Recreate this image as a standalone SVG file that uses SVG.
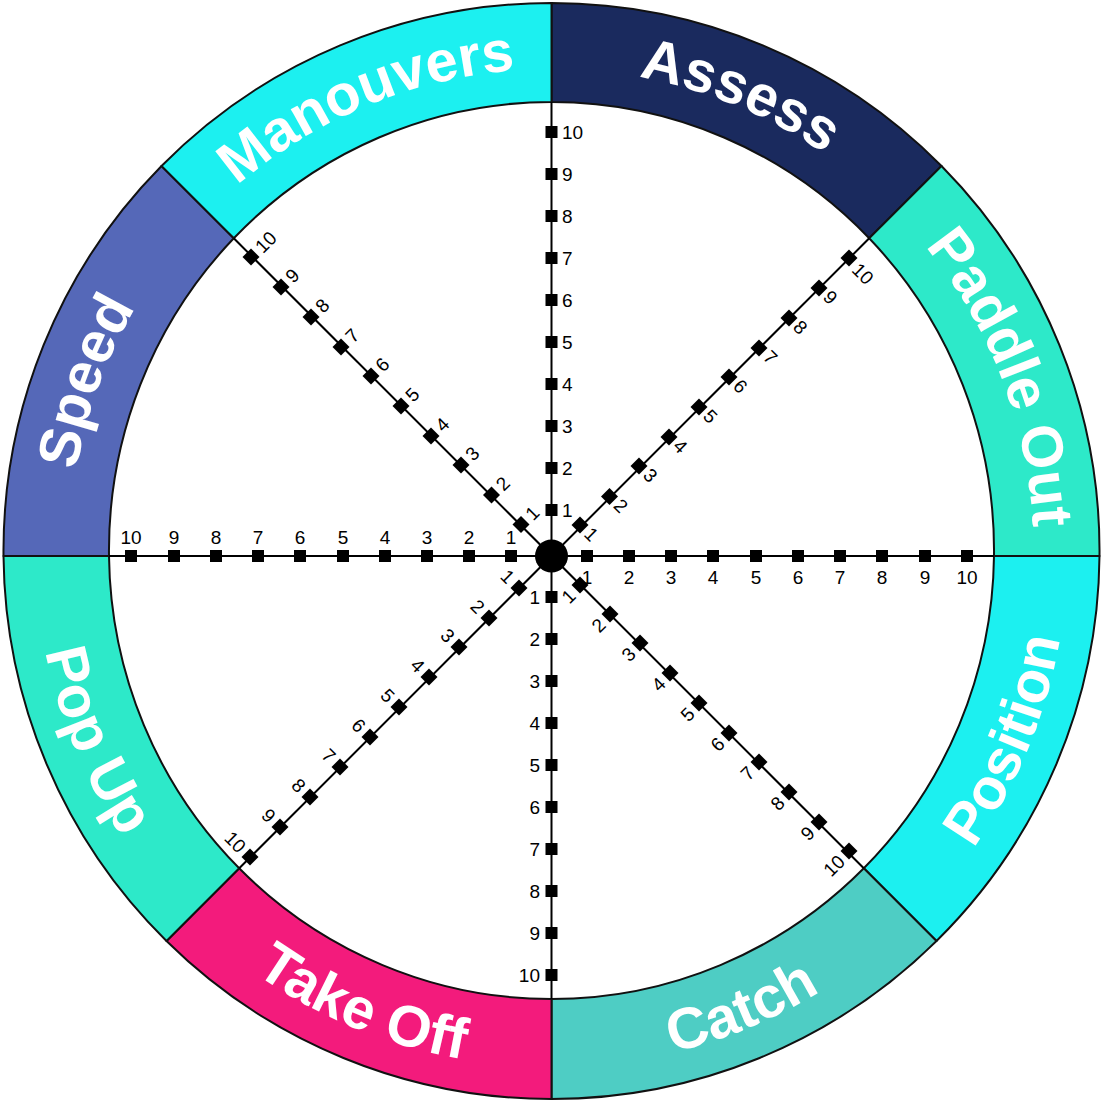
<svg xmlns="http://www.w3.org/2000/svg" xmlns:xlink="http://www.w3.org/1999/xlink" width="1101" height="1102" viewBox="0 0 1101 1102">
<style>
.seg{stroke:#111;stroke-width:2;stroke-linejoin:round}
.lbl{font-family:"Liberation Sans",Arial,sans-serif;font-weight:bold;font-size:58px;fill:#fff}
.spoke{stroke:#000;stroke-width:2;fill:none}
.num{font-family:"Liberation Sans",Arial,sans-serif;font-size:19px;fill:#000}
.c{text-anchor:middle}
.s{text-anchor:start}
.e{text-anchor:end}
</style>
<defs>
<rect id="sq" x="-6" y="-6" width="12" height="12" fill="#000"/>
<rect id="dm" x="-6" y="-6" width="12" height="12" fill="#000" transform="rotate(45)"/>
<path id="pManouvers" d="M123.96,328.44 A482,482 0 0 1 696.44,91.31"/>
<path id="pAssess" d="M406.56,91.31 A482,482 0 0 1 979.04,328.44"/>
<path id="pPaddle" d="M785.18,129.43 A482,482 0 0 1 1007.24,707.92"/>
<path id="pSpeed" d="M98.57,715.85 A482,482 0 0 1 310.5,133.57"/>
<path id="pPosition" d="M789.76,1008.70 A516,516 0 0 0 1043.62,395.83"/>
<path id="pCatch" d="M396.33,1043.12 A516,516 0 0 0 1009.20,789.26"/>
<path id="pTakeOff" d="M93.80,789.26 A516,516 0 0 0 706.67,1043.12"/>
<path id="pPopUp" d="M59.38,395.83 A516,516 0 0 0 313.24,1008.70"/>
</defs>
<rect width="1101" height="1102" fill="#fff"/>

<g id="assess">
<path class="seg" fill="#1a2a5e" d="M551.5,102 L551.5,3 A548,548 0 0 1 941.5,166 L869.2,238.3 A442.5,448.5 0 0 0 551.5,102 Z"/>
<text class="lbl"><textPath href="#pAssess" startOffset="50%" text-anchor="middle">Assess</textPath></text>
</g>
<g id="paddle-out">
<path class="seg" fill="#2de9c9" d="M869.2,238.3 L941.5,166 A548,548 0 0 1 1099.5,556 L994,556 A442.5,448.5 0 0 0 869.2,238.3 Z"/>
<text class="lbl"><textPath href="#pPaddle" startOffset="50%" text-anchor="middle">Paddle Out</textPath></text>
</g>
<g id="position">
<path class="seg" fill="#1cf0f0" d="M994,556 L1099.5,556 A548,548 0 0 1 936.5,941 L863.8,868.3 A442.5,448.5 0 0 0 994,556 Z"/>
<text class="lbl"><textPath href="#pPosition" startOffset="50%" text-anchor="middle">Position</textPath></text>
</g>
<g id="catch">
<path class="seg" fill="#4ecdc4" d="M863.8,868.3 L936.5,941 A548,548 0 0 1 551.5,1099 L551.5,999 A442.5,448.5 0 0 0 863.8,868.3 Z"/>
<text class="lbl"><textPath href="#pCatch" startOffset="50%" text-anchor="middle">Catch</textPath></text>
</g>
<g id="take-off">
<path class="seg" fill="#f31b7c" d="M551.5,999 L551.5,1099 A548,548 0 0 1 166.5,941 L239.2,868.3 A442.5,448.5 0 0 0 551.5,999 Z"/>
<text class="lbl"><textPath href="#pTakeOff" startOffset="50%" text-anchor="middle">Take Off</textPath></text>
</g>
<g id="pop-up">
<path class="seg" fill="#2de9c9" d="M239.2,868.3 L166.5,941 A548,548 0 0 1 3.5,556 L109,556 A442.5,448.5 0 0 0 239.2,868.3 Z"/>
<text class="lbl"><textPath href="#pPopUp" startOffset="50%" text-anchor="middle">Pop Up</textPath></text>
</g>
<g id="speed">
<path class="seg" fill="#5568b8" d="M109,556 L3.5,556 A548,548 0 0 1 161.5,166 L233.8,238.3 A442.5,448.5 0 0 0 109,556 Z"/>
<text class="lbl"><textPath href="#pSpeed" startOffset="50%" text-anchor="middle">Speed</textPath></text>
</g>
<g id="manouvers">
<path class="seg" fill="#1cf0f0" d="M233.8,238.3 L161.5,166 A548,548 0 0 1 551.5,3 L551.5,102 A442.5,448.5 0 0 0 233.8,238.3 Z"/>
<text class="lbl"><textPath href="#pManouvers" startOffset="50%" text-anchor="middle">Manouvers</textPath></text>
</g>

<g id="connectors">
<line class="spoke" x1="551.5" y1="102" x2="551.5" y2="999"/>
<line class="spoke" x1="109" y1="556" x2="994" y2="556"/>
<line class="spoke" x1="869.2" y1="238.3" x2="239.2" y2="868.3"/>
<line class="spoke" x1="233.8" y1="238.3" x2="863.8" y2="868.3"/>
</g>

<g id="ticks-north">
<use href="#sq" x="551.5" y="510"/><use href="#sq" x="551.5" y="468"/><use href="#sq" x="551.5" y="426"/><use href="#sq" x="551.5" y="384"/><use href="#sq" x="551.5" y="342"/><use href="#sq" x="551.5" y="300"/><use href="#sq" x="551.5" y="258"/><use href="#sq" x="551.5" y="216"/><use href="#sq" x="551.5" y="174"/><use href="#sq" x="551.5" y="132"/>
<g class="num s">
<text x="562" y="517">1</text><text x="562" y="475">2</text><text x="562" y="433">3</text><text x="562" y="391">4</text><text x="562" y="349">5</text><text x="562" y="307">6</text><text x="562" y="265">7</text><text x="562" y="223">8</text><text x="562" y="181">9</text><text x="562" y="139">10</text>
</g>
</g>
<g id="ticks-south">
<use href="#sq" x="551.5" y="597"/><use href="#sq" x="551.5" y="639"/><use href="#sq" x="551.5" y="681"/><use href="#sq" x="551.5" y="723"/><use href="#sq" x="551.5" y="765"/><use href="#sq" x="551.5" y="807"/><use href="#sq" x="551.5" y="849"/><use href="#sq" x="551.5" y="891"/><use href="#sq" x="551.5" y="933"/><use href="#sq" x="551.5" y="975"/>
<g class="num e">
<text x="540" y="604">1</text><text x="540" y="646">2</text><text x="540" y="688">3</text><text x="540" y="730">4</text><text x="540" y="772">5</text><text x="540" y="814">6</text><text x="540" y="856">7</text><text x="540" y="898">8</text><text x="540" y="940">9</text><text x="540" y="982">10</text>
</g>
</g>
<g id="ticks-west">
<use href="#sq" x="511" y="556"/><use href="#sq" x="469" y="556"/><use href="#sq" x="427" y="556"/><use href="#sq" x="385" y="556"/><use href="#sq" x="343" y="556"/><use href="#sq" x="300" y="556"/><use href="#sq" x="258" y="556"/><use href="#sq" x="216" y="556"/><use href="#sq" x="174" y="556"/><use href="#sq" x="131" y="556"/>
<g class="num c">
<text x="511" y="543.5">1</text><text x="469" y="543.5">2</text><text x="427" y="543.5">3</text><text x="385" y="543.5">4</text><text x="343" y="543.5">5</text><text x="300" y="543.5">6</text><text x="258" y="543.5">7</text><text x="216" y="543.5">8</text><text x="174" y="543.5">9</text><text x="131" y="543.5">10</text>
</g>
</g>
<g id="ticks-east">
<use href="#sq" x="587" y="556"/><use href="#sq" x="629" y="556"/><use href="#sq" x="671" y="556"/><use href="#sq" x="713" y="556"/><use href="#sq" x="756" y="556"/><use href="#sq" x="798" y="556"/><use href="#sq" x="840" y="556"/><use href="#sq" x="882" y="556"/><use href="#sq" x="925" y="556"/><use href="#sq" x="967" y="556"/>
<g class="num c">
<text x="587" y="583.5">1</text><text x="629" y="583.5">2</text><text x="671" y="583.5">3</text><text x="713" y="583.5">4</text><text x="756" y="583.5">5</text><text x="798" y="583.5">6</text><text x="840" y="583.5">7</text><text x="882" y="583.5">8</text><text x="925" y="583.5">9</text><text x="967" y="583.5">10</text>
</g>
</g>
<g id="ticks-ne">
<use href="#dm" x="580" y="525"/><use href="#dm" x="609.5" y="496.5"/><use href="#dm" x="639" y="466"/><use href="#dm" x="669" y="437"/><use href="#dm" x="699" y="407"/><use href="#dm" x="729" y="377"/><use href="#dm" x="759" y="348"/><use href="#dm" x="789" y="318"/><use href="#dm" x="819" y="288"/><use href="#dm" x="849" y="258"/>
<g class="num c">
<text transform="translate(591.3 534.3) rotate(45)" y="6.5">1</text>
<text transform="translate(620.8 505.8) rotate(45)" y="6.5">2</text>
<text transform="translate(650.3 475.3) rotate(45)" y="6.5">3</text>
<text transform="translate(680.3 446.3) rotate(45)" y="6.5">4</text>
<text transform="translate(710.3 416.3) rotate(45)" y="6.5">5</text>
<text transform="translate(740.3 386.3) rotate(45)" y="6.5">6</text>
<text transform="translate(770.3 357.3) rotate(45)" y="6.5">7</text>
<text transform="translate(800.3 327.3) rotate(45)" y="6.5">8</text>
<text transform="translate(830.3 297.3) rotate(45)" y="6.5">9</text>
<text transform="translate(862.8 273.8) rotate(45)" y="6.5">10</text>
</g>
</g>
<g id="ticks-nw">
<use href="#dm" x="521" y="524.5"/><use href="#dm" x="491.5" y="495"/><use href="#dm" x="461" y="465"/><use href="#dm" x="431" y="436"/><use href="#dm" x="401" y="406"/><use href="#dm" x="371" y="376"/><use href="#dm" x="341" y="347"/><use href="#dm" x="311" y="317"/><use href="#dm" x="281" y="287"/><use href="#dm" x="251" y="257"/>
<g class="num c">
<text transform="translate(532.3 513.2) rotate(-45)" y="6.5">1</text>
<text transform="translate(502.8 483.7) rotate(-45)" y="6.5">2</text>
<text transform="translate(472.3 453.7) rotate(-45)" y="6.5">3</text>
<text transform="translate(442.3 424.7) rotate(-45)" y="6.5">4</text>
<text transform="translate(412.3 394.7) rotate(-45)" y="6.5">5</text>
<text transform="translate(382.3 364.7) rotate(-45)" y="6.5">6</text>
<text transform="translate(352.3 335.7) rotate(-45)" y="6.5">7</text>
<text transform="translate(322.3 305.7) rotate(-45)" y="6.5">8</text>
<text transform="translate(292.3 275.7) rotate(-45)" y="6.5">9</text>
<text transform="translate(265.8 242.2) rotate(-45)" y="6.5">10</text>
</g>
</g>
<g id="ticks-se">
<use href="#dm" x="580" y="585"/><use href="#dm" x="610" y="614"/><use href="#dm" x="640" y="643"/><use href="#dm" x="670" y="673"/><use href="#dm" x="699" y="703"/><use href="#dm" x="729" y="733"/><use href="#dm" x="759" y="762"/><use href="#dm" x="789" y="792"/><use href="#dm" x="819" y="822"/><use href="#dm" x="849" y="851"/>
<g class="num c">
<text transform="translate(568.7 596.3) rotate(-45)" y="6.5">1</text>
<text transform="translate(598.7 625.3) rotate(-45)" y="6.5">2</text>
<text transform="translate(628.7 654.3) rotate(-45)" y="6.5">3</text>
<text transform="translate(658.7 684.3) rotate(-45)" y="6.5">4</text>
<text transform="translate(687.7 714.3) rotate(-45)" y="6.5">5</text>
<text transform="translate(717.7 744.3) rotate(-45)" y="6.5">6</text>
<text transform="translate(747.7 773.3) rotate(-45)" y="6.5">7</text>
<text transform="translate(777.7 803.3) rotate(-45)" y="6.5">8</text>
<text transform="translate(807.7 833.3) rotate(-45)" y="6.5">9</text>
<text transform="translate(834.2 865.8) rotate(-45)" y="6.5">10</text>
</g>
</g>
<g id="ticks-sw">
<use href="#dm" x="519" y="588"/><use href="#dm" x="489" y="618"/><use href="#dm" x="459" y="647"/><use href="#dm" x="429" y="677"/><use href="#dm" x="399" y="707"/><use href="#dm" x="370" y="737"/><use href="#dm" x="340" y="767"/><use href="#dm" x="310" y="797"/><use href="#dm" x="280" y="827"/><use href="#dm" x="250" y="857"/>
<g class="num c">
<text transform="translate(507.7 576.7) rotate(45)" y="6.5">1</text>
<text transform="translate(477.7 606.7) rotate(45)" y="6.5">2</text>
<text transform="translate(447.7 635.7) rotate(45)" y="6.5">3</text>
<text transform="translate(417.7 665.7) rotate(45)" y="6.5">4</text>
<text transform="translate(387.7 695.7) rotate(45)" y="6.5">5</text>
<text transform="translate(358.7 725.7) rotate(45)" y="6.5">6</text>
<text transform="translate(328.7 755.7) rotate(45)" y="6.5">7</text>
<text transform="translate(298.7 785.7) rotate(45)" y="6.5">8</text>
<text transform="translate(268.7 815.7) rotate(45)" y="6.5">9</text>
<text transform="translate(235.2 842.2) rotate(45)" y="6.5">10</text>
</g>
</g>
<g id="hub">
<circle cx="551.5" cy="556" r="16.5" fill="#000"/>
</g>
</svg>
